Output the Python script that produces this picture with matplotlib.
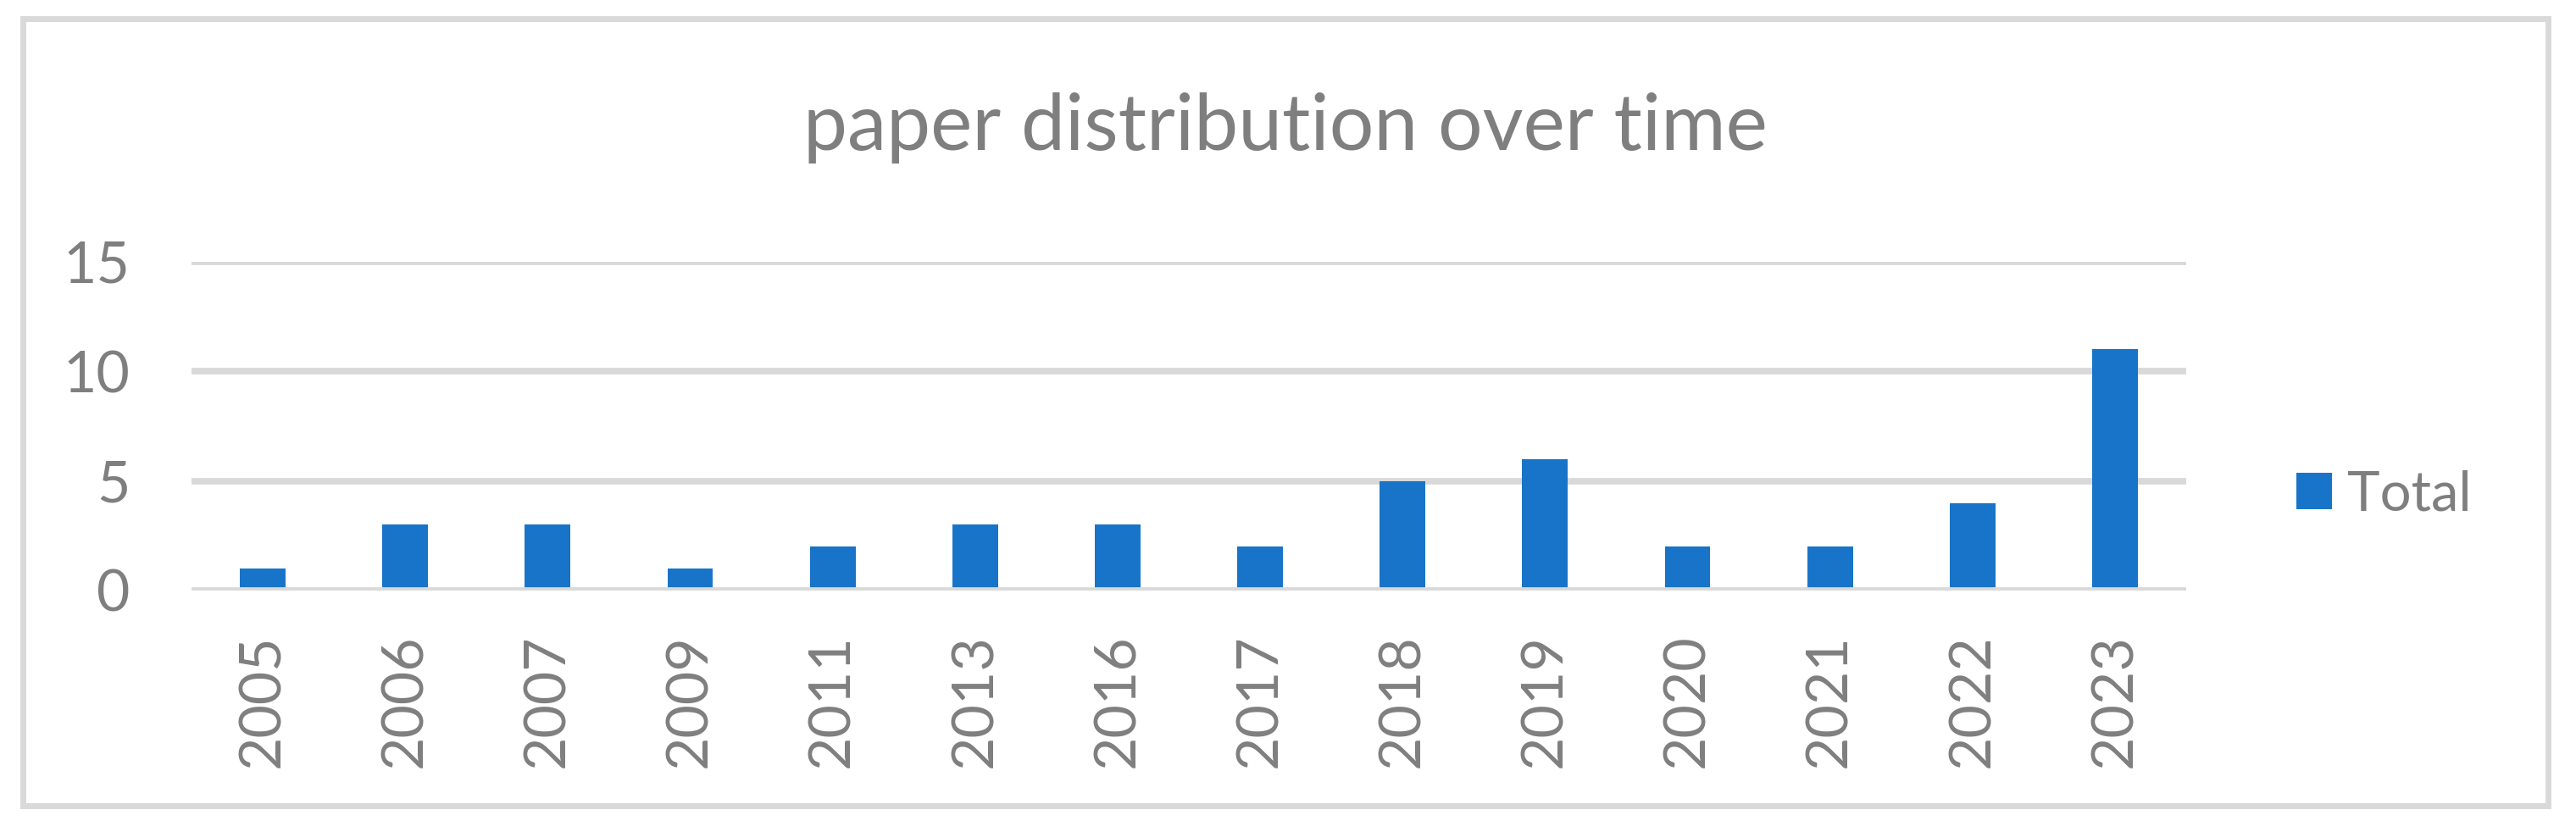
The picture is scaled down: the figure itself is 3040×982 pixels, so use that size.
import matplotlib
matplotlib.use("Agg")
import matplotlib.pyplot as plt
from matplotlib.patches import Rectangle

plt.rcParams["font.family"] = ["Lato", "DejaVu Sans"]

years = ["2005", "2006", "2007", "2009", "2011", "2013", "2016",
         "2017", "2018", "2019", "2020", "2021", "2022", "2023"]
totals = [1, 3, 3, 1, 2, 3, 3, 2, 5, 6, 2, 2, 4, 11]
y_ticks = [0, 5, 10, 15]

TEXT = "#7f7f7f"
GRID = "#d9d9d9"
BAR = "#1874c8"

W, H = 3040, 982
fig = plt.figure(figsize=(W / 100, H / 100), dpi=100)
fig.patch.set_facecolor("white")

# chart border
fig.patches.append(Rectangle((27 / W, 1 - 951 / H), 2980 / W, 929 / H,
                             transform=fig.transFigure, fill=False,
                             edgecolor=GRID, linewidth=5))

ax = fig.add_axes([226 / W, 1 - 697 / H, 2354 / W, 388 / H])
x = range(len(years))
ax.bar(x, totals, width=0.32, color=BAR, label="Total", zorder=2)
ax.set_xlim(-0.5, len(years) - 0.5)
ax.set_ylim(0, 15)
ax.set_yticks(y_ticks)
ax.set_xticks(list(x))
ax.set_xticklabels(years, rotation=90)

for v in y_ticks[1:]:
    ax.axhline(v, color=GRID, linewidth=5.6, zorder=1)
ax.axhline(0, color=GRID, linewidth=5.6, zorder=3)

for s in ax.spines.values():
    s.set_visible(False)
ax.tick_params(axis="y", length=0, pad=52, labelsize=49, labelcolor=TEXT)
ax.tick_params(axis="x", length=0, pad=37, labelsize=49, labelcolor=TEXT)

fig.text(1517 / W, 1 - 177 / H, "paper distribution over time",
         ha="center", va="baseline", fontsize=67, color=TEXT)

fs = 47
fs_px = fs / 72 * 100
ax.legend(loc="center left", bbox_to_anchor=(2710 / W, 1 - 584 / H),
          bbox_transform=fig.transFigure, frameon=False, fontsize=fs,
          labelcolor=TEXT, borderpad=0, borderaxespad=0,
          handlelength=42 / fs_px, handleheight=42 / fs_px,
          handletextpad=18 / fs_px)

fig.savefig("out.png", dpi=100)
